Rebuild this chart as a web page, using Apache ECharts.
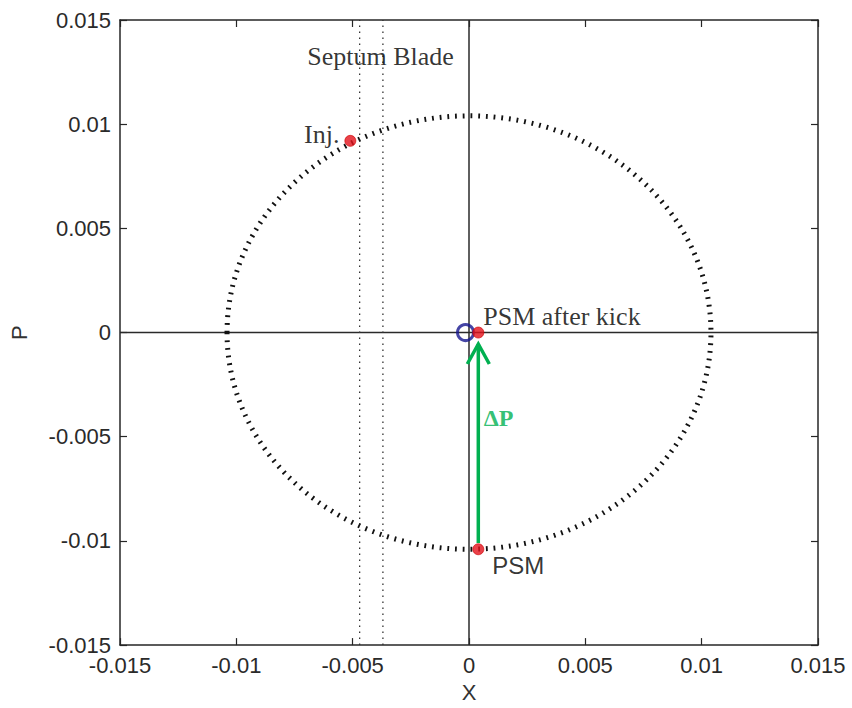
<!DOCTYPE html>
<html>
<head>
<meta charset="utf-8">
<script src="https://cdn.jsdelivr.net/npm/echarts@6/dist/echarts.min.js"></script>
<style>
  html, body { margin: 0; padding: 0; background: #fff; }
  #chart { width: 852px; height: 708px; }
</style>
</head>
<body>
<div id="chart"></div>
<script>
// Axis range and ticks (shared by X and P)
const axisMin = -0.015, axisMax = 0.015, tickStep = 0.005;
const tickValues = [-0.015, -0.01, -0.005, 0, 0.005, 0.01, 0.015];
const tickLabels = ['-0.015', '-0.01', '-0.005', '0', '0.005', '0.01', '0.015'];

// Phase-space ellipse: centre (X, P) and half-axes (X, P)
const orbitCenter = [0, 0];
const orbitRadius = [0.0104, 0.0104];

// Septum blade edges (X positions)
const septumEdges = [-0.0047, -0.0037];

// Marked particles (X, P)
const injPoint = [-0.0051, 0.0092];
const psmPoint = [0.0004, -0.0104];
const psmKickPoint = [0.0004, 0.0];
const closedOrbitPoint = [-0.00015, 0.0];

// Kick ΔP: X, start P, end P
const kickArrow = [0.0004, -0.0101, -0.00055];

// Free annotations
const noteTexts = ['Septum Blade', 'ΔP'];
const noteX = [-0.0038, 0.00127];
const noteY = [0.01324, -0.0041];

const SANS = 'Liberation Sans, Arial, sans-serif';
const SERIF = 'Liberation Serif, Times New Roman, serif';
const AXIS_COLOR = '#262626';
const RED = '#e3121b';
const GREEN = '#00b050';

const noteStyles = [
  { fontFamily: SERIF, fontSize: 26, color: '#000' },
  { fontFamily: SERIF, fontSize: 24, fontWeight: 'bold', color: GREEN }
];

function tickText(v) {
  const i = tickValues.findIndex(t => Math.abs(t - v) < tickStep / 100);
  return i < 0 ? '' : tickLabels[i];
}

function makeAxis(position, showLabels, name, nameGap) {
  return {
    type: 'value',
    position: position,
    min: axisMin,
    max: axisMax,
    interval: tickStep,
    name: name || '',
    nameLocation: 'middle',
    nameGap: nameGap || 0,
    nameTextStyle: { fontFamily: SANS, fontSize: 22, color: '#333' },
    splitLine: { show: false },
    axisLine: { show: true, onZero: false, lineStyle: { color: AXIS_COLOR, width: 1.5 } },
    axisTick: { show: true, inside: true, length: 7, lineStyle: { color: AXIS_COLOR, width: 1.2 } },
    axisLabel: {
      show: showLabels,
      fontFamily: SANS,
      fontSize: 22,
      color: '#2a2a2a',
      margin: 9,
      formatter: tickText
    }
  };
}

const chart = echarts.init(document.getElementById('chart'), null, { renderer: 'svg' });

const refLine = (points, style) => ({
  type: 'line',
  xAxisIndex: 0, yAxisIndex: 0,
  data: points,
  symbol: 'none',
  silent: true,
  lineStyle: style,
  z: 1
});

chart.setOption({
  animation: false,
  grid: { left: 119, right: 34, top: 20, bottom: 59 },
  xAxis: [
    makeAxis('bottom', true, 'X', 31),
    makeAxis('top', false)
  ],
  yAxis: [
    makeAxis('left', true, 'P', 90),
    makeAxis('right', false)
  ],
  series: [
    // zero lines
    refLine([[0, axisMin], [0, axisMax]], { color: '#2a2a2a', width: 1.5 }),
    refLine([[axisMin, 0], [axisMax, 0]], { color: '#2a2a2a', width: 1.5 }),
    // septum blade edges
    refLine([[septumEdges[0], axisMin], [septumEdges[0], axisMax]], { color: '#333', width: 1.3, type: [1.5, 4.5] }),
    refLine([[septumEdges[1], axisMin], [septumEdges[1], axisMax]], { color: '#333', width: 1.3, type: [1.5, 4.5] }),
    // phase-space ellipse
    {
      type: 'custom',
      xAxisIndex: 0, yAxisIndex: 0,
      silent: true,
      z: 2,
      data: [[orbitCenter[0], orbitCenter[1], orbitRadius[0], orbitRadius[1]]],
      renderItem: function (params, api) {
        const c = api.coord([api.value(0), api.value(1)]);
        const s = api.size([api.value(2), api.value(3)]);
        return {
          type: 'ellipse',
          shape: { cx: c[0], cy: c[1], rx: s[0], ry: s[1] },
          style: { fill: 'transparent', stroke: '#111', lineWidth: 5, lineDash: [1.8, 5.9] }
        };
      }
    },
    // kick arrow
    {
      type: 'custom',
      xAxisIndex: 0, yAxisIndex: 0,
      silent: true,
      z: 3,
      data: [kickArrow],
      renderItem: function (params, api) {
        const x = api.value(0);
        const p0 = api.coord([x, api.value(1)]);
        const p1 = api.coord([x, api.value(2)]);
        const head = 20, half = 11;
        return {
          type: 'group',
          children: [
            { type: 'line', shape: { x1: p0[0], y1: p0[1], x2: p1[0], y2: p1[1] },
              style: { stroke: GREEN, lineWidth: 3.5 } },
            { type: 'polyline',
              shape: { points: [[p1[0] - half, p1[1] + head], [p1[0], p1[1]], [p1[0] + half, p1[1] + head]] },
              style: { stroke: GREEN, lineWidth: 3.5, fill: 'transparent' } }
          ]
        };
      }
    },
    // closed orbit marker
    {
      type: 'scatter',
      xAxisIndex: 0, yAxisIndex: 0,
      silent: true,
      z: 4,
      symbol: 'circle',
      symbolSize: 16,
      itemStyle: { color: 'transparent', borderColor: '#16168f', borderWidth: 3 },
      data: [closedOrbitPoint]
    },
    // particles
    {
      type: 'scatter',
      xAxisIndex: 0, yAxisIndex: 0,
      silent: true,
      z: 5,
      symbol: 'circle',
      symbolSize: 11,
      itemStyle: { color: RED, borderColor: '#c00', borderWidth: 0.8 },
      data: [
        { value: injPoint, label: { show: true, formatter: 'Inj.', position: 'left', offset: [0, -6],
            fontFamily: SERIF, fontSize: 26, color: '#000' } },
        { value: psmPoint, label: { show: true, formatter: 'PSM', position: 'right', offset: [3, 16],
            fontFamily: SANS, fontSize: 24, color: '#000' } },
        { value: psmKickPoint, label: { show: true, formatter: 'PSM after kick', position: 'right', offset: [-6, -16],
            fontFamily: SERIF, fontSize: 26, color: '#000' } }
      ]
    },
    // free annotations
    {
      type: 'scatter',
      xAxisIndex: 0, yAxisIndex: 0,
      silent: true,
      z: 6,
      symbolSize: 0,
      data: noteTexts.map((t, i) => ({
        value: [noteX[i], noteY[i]],
        label: Object.assign({ show: true, formatter: t, position: 'inside' }, noteStyles[i])
      }))
    }
  ]
});
</script>
</body>
</html>
